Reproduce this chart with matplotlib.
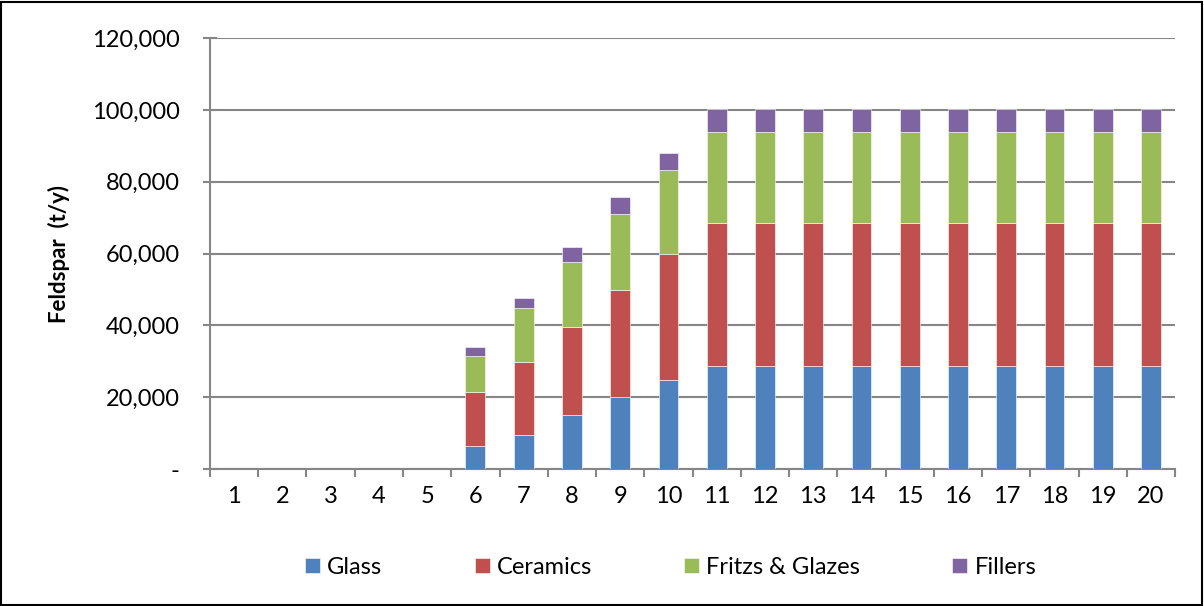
import matplotlib
matplotlib.use("Agg")
import matplotlib.pyplot as plt
from matplotlib.ticker import FuncFormatter, MultipleLocator
import numpy as np

# --- DATA ---
years = list(range(1, 21))
glass = [0, 0, 0, 0, 0, 6500, 9500, 15000, 20000, 24700] + [28800] * 10
ceramics = [0, 0, 0, 0, 0, 15000, 20300, 24600, 30000, 35200] + [39800] * 10
fritzs = [0, 0, 0, 0, 0, 10000, 15000, 18200, 21000, 23300] + [25400] * 10
fillers = [0, 0, 0, 0, 0, 2400, 2900, 4000, 4700, 4700] + [6200] * 10

series = [
    ("Glass", glass, "#4F81BD"),
    ("Ceramics", ceramics, "#C0504D"),
    ("Fritzs & Glazes", fritzs, "#9BBB59"),
    ("Fillers", fillers, "#8064A2"),
]

plt.rcParams["font.family"] = ["Lato", "DejaVu Sans"]

fig = plt.figure(figsize=(12.04, 6.06), dpi=100)
ax = fig.add_axes([0.1744, 0.226, 0.8016, 0.711])

x = np.arange(len(years))
bottom = np.zeros(len(years))
for name, vals, col in series:
    vals = np.array(vals, dtype=float)
    ax.bar(x, vals, width=0.41, bottom=bottom, color=col, label=name,
           edgecolor="white", linewidth=0.4, zorder=3)
    bottom += vals

grid_col = "#868686"
ax.set_xlim(-0.5, len(years) - 0.5)
ax.set_ylim(0, 120000)
ax.yaxis.set_major_locator(MultipleLocator(20000))
ax.yaxis.set_major_formatter(FuncFormatter(lambda v, p: "-" if v == 0 else f"{v:,.0f}"))
ax.grid(axis="y", color=grid_col, linewidth=1.5, zorder=0)

ax.set_xticks(x)
ax.set_xticklabels([str(y) for y in years])
ax.set_xticks(np.arange(-0.5, len(years)), minor=True)
ax.tick_params(axis="x", which="major", length=0, pad=12, labelsize=17)
ax.tick_params(axis="x", which="minor", length=6, width=1.5, color=grid_col, direction="out")
ax.tick_params(axis="y", length=10, width=1.5, color=grid_col, direction="inout", pad=17,
               labelsize=17)

for s in ["top", "right"]:
    ax.spines[s].set_visible(False)
for s in ["left", "bottom"]:
    ax.spines[s].set_color(grid_col)
    ax.spines[s].set_linewidth(1.5)

ax.set_ylabel("Feldspar  (t/y)", fontsize=16, fontweight="bold")
ax.yaxis.set_label_coords(-0.145, 0.5)

ax.legend(loc="center", bbox_to_anchor=(0.557, 0.064), bbox_transform=fig.transFigure,
          ncol=4, frameon=False, fontsize=17, handlelength=0.64, handleheight=0.64,
          handletextpad=0.3, columnspacing=3.9)

# outer border
fig.patches.append(plt.Rectangle((0.001, 0.002), 0.997, 0.995, transform=fig.transFigure,
                                 fill=False, edgecolor="black", linewidth=1.5))

fig.savefig("out.png", dpi=100)
